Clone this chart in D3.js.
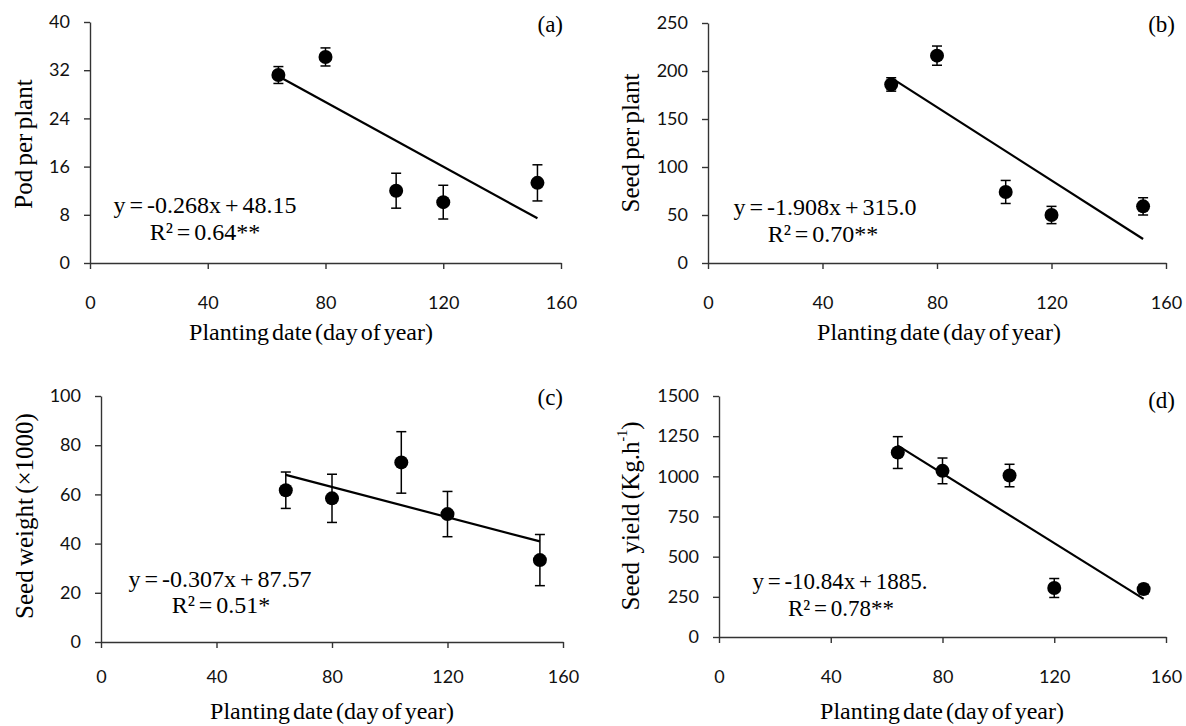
<!DOCTYPE html>
<html>
<head>
<meta charset="utf-8">
<script src="https://cdn.jsdelivr.net/npm/d3@7"></script>
<style>
  body { margin: 0; background: #fff; }
  .tick text { font-family: Lato, "Open Sans", sans-serif; font-size: 18px; fill: #111; }
  .serif { font-family: "Liberation Serif", "Times New Roman", serif; fill: #000; }
</style>
</head>
<body>
<svg id="chart" width="1186" height="726"></svg>
<script>
// planting dates (day of year) shared by all four panels
const plantingDays = [64, 80, 104, 120, 152];
const xTicks = [0, 40, 80, 120, 160];

// (a) pods per plant
const podPerPlant = [31.2, 34.2, 12.0, 10.1, 13.3];
const podErr = [1.4, 1.5, 2.9, 2.8, 3.0];
// (b) seeds per plant
const seedPerPlant = [186, 216, 74, 50, 59];
const seedErr = [7, 10, 12, 9, 9];
// (c) seed weight (x1000)
const seedWeight = [61.7, 58.4, 73.0, 52.0, 33.3];
const weightErr = [7.4, 9.8, 12.5, 9.2, 10.4];
// (d) seed yield
const seedYield = [1148, 1034, 1005, 305, 298];
const yieldErr = [99, 80, 70, 59, 30];

const yTicksA = [0, 8, 16, 24, 32, 40];
const yTicksB = [0, 50, 100, 150, 200, 250];
const yTicksC = [0, 20, 40, 60, 80, 100];
const yTicksD = [0, 250, 500, 750, 1000, 1250, 1500];

const slopes = [-0.268, -1.908, -0.307, -10.84];
const intercepts = [48.15, 315.0, 87.57, 1885];
const equations = ['y = -0.268x + 48.15', 'y = -1.908x + 315.0', 'y = -0.307x + 87.57', 'y = -10.84x + 1885.'];
const rSquared = ['R² = 0.64**', 'R² = 0.70**', 'R² = 0.51*', 'R² = 0.78**'];
const panelLabels = ['(a)', '(b)', '(c)', '(d)'];
const yTitles = ['Pod per plant', 'Seed per plant', 'Seed weight (×1000)', 'Seed  yield (Kg.h'];
const xTitle = 'Planting date (day of year)';

const panels = [
  { y: podPerPlant, err: podErr, yTicks: yTicksA },
  { y: seedPerPlant, err: seedErr, yTicks: yTicksB },
  { y: seedWeight, err: weightErr, yTicks: yTicksC },
  { y: seedYield, err: yieldErr, yTicks: yTicksD }
];

// where each panel sits on the page
const layout = [
  { left: 90, right: 561, top: 22, bottom: 263, labelTop: 296, titleY: 340, titleX: 311,
    eq: [205, 213], r2: [205, 240], tag: [563, 32], yTitle: [23, 144] },
  { left: 708, right: 1166, top: 23, bottom: 263, labelTop: 296, titleY: 340, titleX: 939,
    eq: [825, 215], r2: [823, 242], tag: [1175, 32], yTitle: [630, 143] },
  { left: 101, right: 563, top: 396, bottom: 642, labelTop: 670, titleY: 719, titleX: 332,
    eq: [220, 587], r2: [221, 613], tag: [563, 405], yTitle: [24, 516] },
  { left: 719, right: 1166, top: 396, bottom: 637, labelTop: 670, titleY: 719, titleX: 942,
    eq: [840, 589], r2: [841, 616], tag: [1175, 408], yTitle: [630, 516] }
];

const svg = d3.select('#chart');

panels.forEach((p, i) => {
  const L = layout[i];
  const g = svg.append('g');

  const x = d3.scaleLinear().domain([0, 160]).range([L.left, L.right]);
  const yMax = p.yTicks[p.yTicks.length - 1];
  const y = d3.scaleLinear().domain([0, yMax]).range([L.bottom, L.top]);

  // axes
  const xAxis = g.append('g')
    .attr('transform', `translate(0,${L.bottom})`)
    .call(d3.axisBottom(x).tickValues(xTicks).tickFormat(d3.format('d'))
      .tickSize(6).tickPadding(L.labelTop - L.bottom - 6).tickSizeOuter(0));
  const yAxis = g.append('g')
    .attr('transform', `translate(${L.left},0)`)
    .call(d3.axisLeft(y).tickValues(p.yTicks).tickFormat(d3.format('d'))
      .tickSize(6).tickPadding(14).tickSizeOuter(0));
  [xAxis, yAxis].forEach(a => {
    a.select('.domain').attr('stroke', '#333').attr('stroke-width', 1.4);
    a.selectAll('.tick line').attr('stroke', '#333').attr('stroke-width', 1.4);
  });

  // trend line over the range of the data
  const x0 = d3.min(plantingDays), x1 = d3.max(plantingDays);
  g.append('line')
    .attr('x1', x(x0)).attr('y1', y(slopes[i] * x0 + intercepts[i]))
    .attr('x2', x(x1)).attr('y2', y(slopes[i] * x1 + intercepts[i]))
    .attr('stroke', '#000').attr('stroke-width', 2.2);

  const pts = plantingDays.map((d, k) => ({ d, v: p.y[k], e: p.err[k] }));

  // error bars
  const eb = g.selectAll('.eb').data(pts).enter().append('g')
    .attr('stroke', '#000').attr('stroke-width', 1.5);
  eb.append('line')
    .attr('x1', d => x(d.d)).attr('x2', d => x(d.d))
    .attr('y1', d => y(d.v - d.e)).attr('y2', d => y(d.v + d.e));
  eb.append('line')
    .attr('x1', d => x(d.d) - 5).attr('x2', d => x(d.d) + 5)
    .attr('y1', d => y(d.v + d.e)).attr('y2', d => y(d.v + d.e));
  eb.append('line')
    .attr('x1', d => x(d.d) - 5).attr('x2', d => x(d.d) + 5)
    .attr('y1', d => y(d.v - d.e)).attr('y2', d => y(d.v - d.e));

  // markers
  g.selectAll('circle').data(pts).enter().append('circle')
    .attr('cx', d => x(d.d)).attr('cy', d => y(d.v))
    .attr('r', 7).attr('fill', '#000');

  // texts
  const eqSize = i === 3 ? 23 : 24;
  g.append('text').attr('class', 'serif')
    .attr('x', L.eq[0]).attr('y', L.eq[1])
    .attr('text-anchor', 'middle').attr('font-size', eqSize).attr('word-spacing', -2)
    .text(equations[i]);
  g.append('text').attr('class', 'serif')
    .attr('x', L.r2[0]).attr('y', L.r2[1])
    .attr('text-anchor', 'middle').attr('font-size', eqSize).attr('word-spacing', -2)
    .text(rSquared[i]);
  g.append('text').attr('class', 'serif')
    .attr('x', L.tag[0]).attr('y', L.tag[1])
    .attr('text-anchor', 'end').attr('font-size', 23)
    .text(panelLabels[i]);

  g.append('text').attr('class', 'serif')
    .attr('x', L.titleX).attr('y', L.titleY)
    .attr('text-anchor', 'middle').attr('font-size', 24).attr('word-spacing', -3)
    .text(xTitle);

  const yt = g.append('text').attr('class', 'serif')
    .attr('transform', `translate(${L.yTitle[0]},${L.yTitle[1]}) rotate(-90)`)
    .attr('text-anchor', 'middle').attr('dominant-baseline', 'central')
    .attr('font-size', 25).attr('word-spacing', -2)
    .style('white-space', 'pre')
    .text(yTitles[i]);
  if (i === 3) {
    yt.append('tspan').attr('baseline-shift', 'super').attr('font-size', 14).text('-1');
    yt.append('tspan').text(')');
  }
});
</script>
</body>
</html>
